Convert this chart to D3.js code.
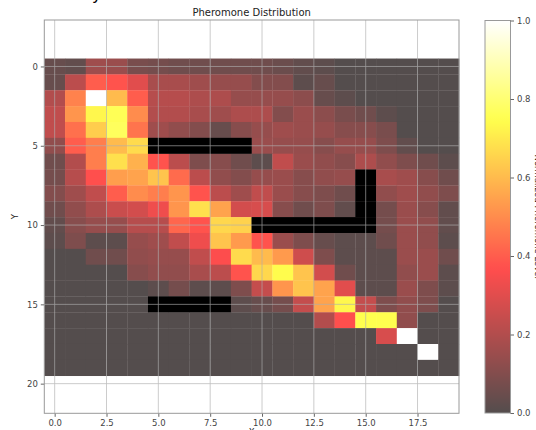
<!DOCTYPE html>
<html>
<head>
<meta charset="utf-8">
<script src="https://cdn.jsdelivr.net/npm/d3@7"></script>
<style>
  body { margin: 0; background: #fff; }
  svg { font-family: "DejaVu Sans", sans-serif; }
</style>
</head>
<body>
<svg id="chart" width="536" height="430"></svg>
<script>
// pheromone level per cell, rows 0..19 (top to bottom), cols 0..19
const pheromone = [
  [0.04,0.03,0.16,0.15,0.08,0.07,0.06,0.06,0.06,0.06,0.06,0.05,0.03,0.02,0,0,0,0,0,0],
  [0.04,0.22,0.40,0.38,0.30,0.18,0.18,0.16,0.14,0.14,0.10,0.10,0.02,0.04,0,0,0,0,0,0],
  [0.20,0.48,1.00,0.60,0.40,0.21,0.21,0.19,0.19,0.14,0.14,0.14,0.12,0.04,0.02,0,0,0,0,0],
  [0.23,0.52,0.73,0.76,0.50,0.20,0.20,0.18,0.16,0.19,0.19,0.10,0.15,0.12,0.08,0.06,0.02,0,0,0],
  [0.23,0.44,0.64,0.77,0.45,0.16,0.13,0.10,0.04,0.11,0.14,0.16,0.15,0.14,0.11,0.11,0.08,0,0,0],
  [0.13,0.40,0.47,0.60,0.67,0,0,0,0,0,0.15,0.14,0.14,0.11,0.14,0.14,0.09,0.03,0,0],
  [0.06,0.20,0.47,0.68,0.58,0.38,0.22,0.09,0.11,0.06,0.02,0.23,0.15,0.13,0.11,0.19,0.13,0.09,0.06,0.02],
  [0.07,0.21,0.37,0.54,0.55,0.62,0.43,0.22,0.13,0.10,0.14,0.15,0.11,0.13,0.14,0,0.18,0.16,0.11,0.06],
  [0.10,0.16,0.23,0.40,0.50,0.47,0.52,0.38,0.22,0.16,0.23,0.15,0.11,0.09,0.06,0,0.13,0.16,0.13,0.09],
  [0.06,0.13,0.19,0.25,0.27,0.33,0.52,0.68,0.55,0.27,0.28,0.11,0.06,0.09,0.03,0,0.07,0.15,0.11,0.03],
  [0.03,0.11,0.14,0.14,0.21,0.21,0.42,0.38,0.66,0.65,0,0,0,0,0,0,0.07,0.15,0.13,0.03],
  [0.02,0.09,0.02,0.02,0.14,0.16,0.23,0.33,0.62,0.53,0.38,0.15,0.09,0.04,0.02,0.02,0.06,0.15,0.13,0.02],
  [0,0,0.06,0.06,0.13,0.14,0.14,0.23,0.36,0.67,0.60,0.53,0.26,0.09,0.02,0.02,0.02,0.15,0.15,0.06],
  [0,0,0,0,0.11,0.13,0.13,0.18,0.22,0.38,0.66,0.74,0.62,0.27,0.06,0.02,0.02,0.13,0.15,0.02],
  [0,0,0,0,0,0.02,0.07,0.02,0.02,0.09,0.24,0.52,0.62,0.55,0.30,0.02,0.02,0.15,0.09,0.02],
  [0,0,0,0,0,0,0,0,0,0.02,0.04,0.07,0.24,0.55,0.73,0.24,0.09,0.13,0.09,0],
  [0,0,0,0,0,0,0,0,0,0,0,0,0,0.20,0.37,0.75,0.75,0.13,0,0],
  [0,0,0,0,0,0,0,0,0,0,0,0,0,0,0,0,0.28,1.00,0,0],
  [0,0,0,0,0,0,0,0,0,0,0,0,0,0,0,0,0,0,1.00,0],
  [0,0,0,0,0,0,0,0,0,0,0,0,0,0,0,0,0,0,0,0]
];

// obstacles as [row, firstCol, lastCol]
const obstacles = [
  [5, 5, 9],
  [7, 15, 15], [8, 15, 15], [9, 15, 15],
  [10, 10, 15],
  [15, 5, 8]
];

const xTicks = [0, 2.5, 5, 7.5, 10, 12.5, 15, 17.5];
const yTicks = [0, 5, 10, 15, 20];
const cbTicks = [0, 0.2, 0.4, 0.6, 0.8, 1.0];

var svg = d3.select("#chart");

// plot area
var plotL = 44.3, plotR = 459, plotT = 20, plotB = 413.3;

var x = d3.scaleLinear().domain([-0.5, 19.5]).range([plotL, plotR]);
var y = d3.scaleLinear().domain([-2.93, 21.87]).range([plotT, plotB]);

// matplotlib "hot" colormap, drawn at alpha 0.7 over white
var hotR = d3.scaleLinear().domain([0, 0.365079, 1]).range([0.0416, 1, 1]).clamp(true);
var hotG = d3.scaleLinear().domain([0, 0.365079, 0.746032, 1]).range([0, 0, 1, 1]).clamp(true);
var hotB = d3.scaleLinear().domain([0, 0.746032, 1]).range([0, 0, 1]).clamp(true);
function hot(v) {
    var a = 0.7;
    var c = [hotR(v), hotG(v), hotB(v)].map(function (k) {
        return Math.round(255 * (a * k + (1 - a)));
    });
    return d3.rgb(c[0], c[1], c[2]).toString();
}

var cells = [];
pheromone.forEach(function (row, r) {
    row.forEach(function (v, c) {
        cells.push({ r: r, c: c, v: v });
    });
});

var heat = svg.append("g").attr("class", "heat");
heat.selectAll("rect.cell")
    .data(cells)
    .enter()
    .append("rect")
    .attr("class", "cell")
    .attr("x", (d) => x(d.c - 0.5))
    .attr("y", (d) => y(d.r - 0.5))
    .attr("width", x(1) - x(0) + 0.3)
    .attr("height", y(1) - y(0) + 0.3)
    .attr("fill", (d) => hot(d.v));

// obstacles in black
heat.selectAll("rect.obstacle")
    .data(obstacles)
    .enter()
    .append("rect")
    .attr("class", "obstacle")
    .attr("x", (d) => x(d[1] - 0.5))
    .attr("y", (d) => y(d[0] - 0.5))
    .attr("width", (d) => x(d[2] + 0.5) - x(d[1] - 0.5))
    .attr("height", y(1) - y(0))
    .attr("fill", "#000");

// grid on top
var grid = svg.append("g").attr("stroke", "#b0b0b0").attr("stroke-width", 0.8).attr("opacity", 0.8);
grid.selectAll("line.vx").data(xTicks).enter().append("line")
    .attr("x1", (d) => x(d)).attr("x2", (d) => x(d))
    .attr("y1", plotT).attr("y2", plotB);
grid.selectAll("line.hy").data(yTicks).enter().append("line")
    .attr("x1", plotL).attr("x2", plotR)
    .attr("y1", (d) => y(d)).attr("y2", (d) => y(d));

// axes
var xAxis = svg.append("g")
    .attr("transform", "translate(0," + plotB + ")")
    .call(d3.axisBottom(x).tickValues(xTicks).tickFormat(d3.format(".1f")).tickSize(3.5).tickPadding(3));
var yAxis = svg.append("g")
    .attr("transform", "translate(" + plotL + ",0)")
    .call(d3.axisLeft(y).tickValues(yTicks).tickFormat(d3.format("d")).tickSize(3.5).tickPadding(3));
[xAxis, yAxis].forEach(function (g) {
    g.select(".domain").remove();
    g.selectAll("line").attr("stroke", "#666");
    g.selectAll("text").attr("fill", "#444").style("font-size", "8.5px").style("font-family", "DejaVu Sans");
});

svg.append("rect")
    .attr("x", plotL).attr("y", plotT)
    .attr("width", plotR - plotL).attr("height", plotB - plotT)
    .attr("fill", "none").attr("stroke", "#999").attr("stroke-width", 1);

// titles and labels
svg.append("text")
    .attr("x", (plotL + plotR) / 2).attr("y", 16)
    .attr("text-anchor", "middle")
    .attr("fill", "#222")
    .style("font-size", "10px")
    .text("Pheromone Distribution");

svg.append("text")
    .attr("transform", "translate(18," + (plotT + plotB) / 2 + ") rotate(-90)")
    .attr("text-anchor", "middle")
    .attr("fill", "#222")
    .style("font-size", "8.5px")
    .text("Y");

svg.append("text")
    .attr("x", (plotL + plotR) / 2).attr("y", 435)
    .attr("text-anchor", "middle")
    .attr("fill", "#222")
    .style("font-size", "8.5px")
    .text("X");

// piece of the figure title above, cut off by the frame
svg.append("text")
    .attr("x", 92).attr("y", 0)
    .attr("fill", "#000")
    .style("font-size", "16px")
    .text("y");

// colorbar
var cbL = 485, cbR = 510.5, cbT = 20.5, cbB = 413;
var cb = d3.scaleLinear().domain([0, 1]).range([cbB, cbT]);

var grad = svg.append("defs").append("linearGradient")
    .attr("id", "hotgrad")
    .attr("x1", 0).attr("y1", 1).attr("x2", 0).attr("y2", 0);
grad.selectAll("stop")
    .data(d3.range(0, 1.0001, 0.02))
    .enter()
    .append("stop")
    .attr("offset", (d) => d)
    .attr("stop-color", (d) => hot(d));

svg.append("rect")
    .attr("x", cbL).attr("y", cbT)
    .attr("width", cbR - cbL).attr("height", cbB - cbT)
    .attr("fill", "url(#hotgrad)")
    .attr("stroke", "#999").attr("stroke-width", 1);

var cbAxis = svg.append("g")
    .attr("transform", "translate(" + cbR + ",0)")
    .call(d3.axisRight(cb).tickValues(cbTicks).tickFormat(d3.format(".1f")).tickSize(3.5).tickPadding(3));
cbAxis.select(".domain").remove();
cbAxis.selectAll("line").attr("stroke", "#666");
cbAxis.selectAll("text").attr("fill", "#444").style("font-size", "8.5px").style("font-family", "DejaVu Sans");

svg.append("text")
    .attr("transform", "translate(535," + (cbT + cbB) / 2 + ") rotate(90)")
    .attr("text-anchor", "middle")
    .attr("fill", "#222")
    .style("font-size", "8.5px")
    .text("Normalized Pheromone Level");
</script>
</body>
</html>
